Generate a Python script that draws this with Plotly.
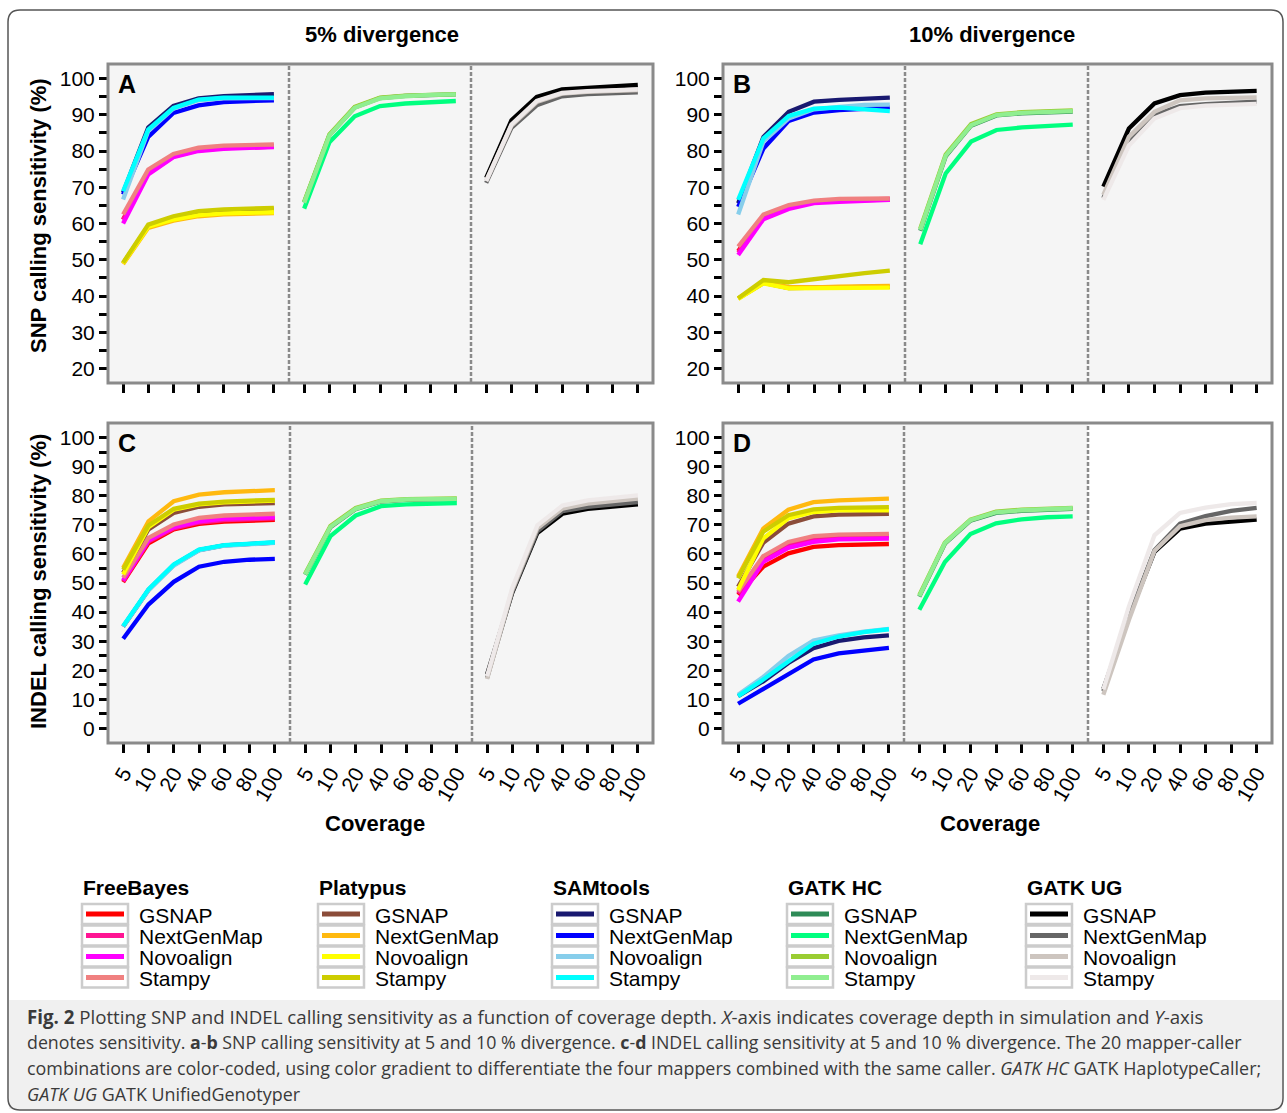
import plotly.graph_objects as go

# ---------------- data ----------------
coverage = ["5", "10", "20", "40", "60", "80", "100"]
mappers = ["GSNAP", "NextGenMap", "Novoalign", "Stampy"]
callers = ["FreeBayes", "Platypus", "SAMtools", "GATK HC", "GATK UG"]

freebayes_colors = ["#FF0000", "#FF1493", "#FF00FF", "#F08080"]
platypus_colors = ["#8B4C39", "#FFB90F", "#FFFF00", "#CDCD00"]
samtools_colors = ["#191970", "#0000FF", "#87CEEB", "#00FFFF"]
gatkhc_colors = ["#2E8B57", "#00FF7F", "#9ACD32", "#90EE90"]
gatkug_colors = ["#000000", "#666666", "#CDC5BF", "#EEE9E9"]

# Panel A: SNP sensitivity, 5% divergence (rows: GSNAP, NextGenMap, Novoalign, Stampy)
snp5_freebayes = [[61.1, 73.8, 78.5, 80.2, 80.8, 81.0, 81.2],
                  [61.0, 74.0, 78.7, 80.4, 81.0, 81.2, 81.4],
                  [60.0, 73.5, 78.3, 80.0, 80.6, 80.9, 81.1],
                  [62.5, 74.9, 79.2, 80.9, 81.5, 81.7, 81.8]]
snp5_platypus = [[49.0, 59.3, 61.5, 62.8, 63.3, 63.6, 63.8],
                 [48.8, 58.8, 60.8, 62.0, 62.5, 62.7, 62.9],
                 [49.0, 59.1, 61.1, 62.3, 62.8, 62.9, 63.1],
                 [49.2, 59.7, 62.0, 63.4, 63.9, 64.1, 64.3]]
snp5_samtools = [[68.5, 86.5, 92.4, 94.5, 95.1, 95.4, 95.7],
                 [68.0, 83.9, 90.5, 92.6, 93.5, 93.7, 94.0],
                 [66.6, 85.5, 91.7, 94.0, 94.5, 94.6, 94.6],
                 [68.9, 85.9, 91.9, 94.2, 94.7, 94.8, 94.7]]
snp5_gatkhc = [[65.8, 84.4, 92.0, 94.6, 95.2, 95.5, 95.6],
               [64.1, 82.4, 89.6, 92.4, 93.1, 93.5, 93.8],
               [66.0, 84.6, 92.2, 94.7, 95.3, 95.6, 95.7],
               [65.7, 84.3, 91.9, 94.5, 95.1, 95.5, 95.6]]
snp5_gatkug = [[72.6, 88.5, 94.9, 97.0, 97.4, 97.9, 98.2],
               [71.2, 86.4, 92.6, 95.1, 95.7, 96.0, 96.2],
               [71.8, 87.0, 93.5, 95.8, 96.3, 96.6, 96.8],
               [71.7, 87.3, 93.8, 96.0, 96.5, 96.8, 97.0]]

# Panel B: SNP sensitivity, 10% divergence
snp10_freebayes = [[52.4, 61.6, 64.4, 65.9, 66.3, 66.5, 66.6],
                   [52.0, 61.8, 64.6, 66.0, 66.5, 66.7, 66.8],
                   [51.3, 61.2, 64.0, 65.6, 66.0, 66.3, 66.5],
                   [53.6, 62.5, 65.1, 66.3, 66.8, 66.9, 66.9]]
snp10_platypus = [[39.3, 43.6, 42.2, 42.2, 42.4, 42.5, 42.5],
                  [39.3, 43.7, 42.5, 42.4, 42.6, 42.7, 42.8],
                  [39.2, 43.5, 42.1, 42.1, 42.3, 42.3, 42.3],
                  [39.4, 44.4, 43.8, 44.7, 45.6, 46.3, 47.0]]
snp10_samtools = [[65.6, 83.9, 90.8, 93.6, 94.1, 94.5, 94.7],
                  [64.6, 80.7, 88.3, 90.6, 91.3, 91.7, 92.0],
                  [62.5, 82.6, 89.0, 91.5, 92.2, 92.7, 92.8],
                  [66.5, 83.5, 89.7, 91.7, 92.0, 91.5, 91.0]]
snp10_gatkhc = [[58.0, 78.5, 87.0, 89.8, 90.4, 90.7, 90.9],
                [54.3, 73.8, 82.6, 85.8, 86.5, 87.0, 87.3],
                [58.6, 79.0, 87.4, 90.1, 90.7, 91.0, 91.2],
                [58.2, 78.7, 87.1, 89.9, 90.5, 90.8, 91.0]]
snp10_gatkug = [[70.2, 86.2, 93.1, 95.4, 96.1, 96.3, 96.6],
                [67.0, 82.6, 89.9, 92.4, 92.9, 93.3, 93.6],
                [67.9, 83.9, 90.8, 94.0, 94.5, 94.7, 94.8],
                [66.5, 81.5, 89.0, 91.8, 92.5, 92.8, 93.0]]

# Panel C: INDEL sensitivity, 5% divergence
indel5_freebayes = [[50.3, 63.6, 68.4, 70.3, 71.1, 71.5, 71.7],
                    [50.6, 64.2, 68.8, 70.8, 71.6, 72.0, 72.2],
                    [50.9, 64.7, 69.2, 71.2, 72.1, 72.4, 72.6],
                    [51.8, 65.5, 70.1, 72.4, 73.2, 73.5, 73.8]]
indel5_platypus = [[53.5, 68.4, 74.1, 76.2, 77.0, 77.3, 77.5],
                   [55.2, 71.2, 78.1, 80.4, 81.2, 81.6, 81.9],
                   [52.9, 69.2, 75.2, 77.0, 77.7, 78.1, 78.3],
                   [54.6, 69.8, 75.5, 77.3, 78.0, 78.4, 78.6]]
indel5_samtools = [[35.0, 47.6, 56.2, 61.3, 62.9, 63.5, 63.9],
                   [30.8, 42.6, 50.4, 55.6, 57.3, 58.0, 58.3],
                   [35.0, 47.5, 56.0, 61.2, 62.8, 63.4, 63.8],
                   [35.2, 47.8, 56.4, 61.5, 63.0, 63.6, 64.0]]
indel5_gatkhc = [[52.8, 69.2, 75.4, 78.0, 78.6, 78.8, 78.8],
                 [49.5, 66.1, 73.2, 76.4, 77.0, 77.3, 77.5],
                 [53.2, 69.6, 75.8, 78.3, 78.8, 79.0, 79.1],
                 [52.9, 69.3, 75.5, 78.1, 78.7, 78.9, 78.9]]
indel5_gatkug = [[18.6, 46.6, 67.2, 73.8, 75.5, 76.4, 77.0],
                 [17.4, 46.9, 67.8, 74.7, 76.2, 77.0, 77.8],
                 [17.0, 47.5, 68.8, 75.6, 77.3, 78.3, 79.0],
                 [18.0, 48.3, 69.8, 76.6, 78.4, 79.3, 80.1]]

# Panel D: INDEL sensitivity, 10% divergence
indel10_freebayes = [[45.9, 55.6, 60.2, 62.4, 63.0, 63.3, 63.4],
                     [46.4, 58.3, 63.0, 65.0, 65.7, 66.0, 66.1],
                     [43.6, 57.3, 62.1, 64.1, 65.0, 65.3, 65.3],
                     [47.0, 59.2, 64.1, 66.1, 66.6, 66.8, 66.9]]
indel10_platypus = [[48.7, 63.8, 70.4, 72.9, 73.5, 73.7, 73.8],
                    [52.2, 68.7, 75.2, 77.8, 78.4, 78.8, 79.0],
                    [47.6, 65.3, 72.2, 74.4, 75.0, 75.0, 75.0],
                    [51.6, 67.6, 73.3, 75.3, 75.8, 75.9, 76.1]]
indel10_samtools = [[11.1, 16.2, 22.5, 27.6, 30.1, 31.3, 32.0],
                    [8.5, 13.6, 18.7, 23.7, 25.8, 26.9, 27.7],
                    [11.6, 17.7, 24.9, 30.2, 32.0, 33.3, 34.2],
                    [11.1, 16.8, 23.0, 29.1, 31.6, 33.1, 34.1]]
indel10_gatkhc = [[45.3, 63.5, 71.4, 74.1, 74.8, 75.1, 75.5],
                  [40.8, 57.2, 66.8, 70.5, 71.9, 72.6, 72.9],
                  [45.8, 63.9, 71.8, 74.5, 75.2, 75.5, 75.8],
                  [45.5, 63.7, 71.6, 74.3, 75.0, 75.3, 75.7]]
indel10_gatkug = [[13.6, 38.5, 60.7, 68.7, 70.4, 71.2, 71.8],
                  [12.8, 38.5, 61.3, 70.4, 73.0, 74.8, 75.8],
                  [11.6, 37.3, 61.0, 69.5, 71.6, 72.5, 72.9],
                  [13.4, 41.9, 66.4, 74.1, 75.9, 77.1, 77.5]]

snp_ticks = list(range(20, 101, 5))
indel_ticks = list(range(0, 101, 5))

# ---------------- layout helpers ----------------
W, H = 1287, 1113
FONT = "Liberation Sans, Arial, sans-serif"


def PX(x):
    return x / W


def PY(y):
    return 1 - y / H


caller_colors = [freebayes_colors, platypus_colors, samtools_colors,
                 gatkhc_colors, gatkug_colors]
caller_sub = [0, 0, 0, 1, 2]

panels = [
    dict(letter="A", data=[snp5_freebayes, snp5_platypus, snp5_samtools, snp5_gatkhc, snp5_gatkug],
         top=64, bottom=383, xs=[108, 289, 471, 653], yr=[16, 104], ticks=snp_ticks, xlabels=False),
    dict(letter="B", data=[snp10_freebayes, snp10_platypus, snp10_samtools, snp10_gatkhc, snp10_gatkug],
         top=64, bottom=383, xs=[723, 905, 1088, 1272], yr=[16, 104], ticks=snp_ticks, xlabels=False),
    dict(letter="C", data=[indel5_freebayes, indel5_platypus, indel5_samtools, indel5_gatkhc, indel5_gatkug],
         top=423, bottom=743, xs=[108, 290, 472, 653], yr=[-5, 105], ticks=indel_ticks, xlabels=True),
    dict(letter="D", data=[indel10_freebayes, indel10_platypus, indel10_samtools, indel10_gatkhc, indel10_gatkug],
         top=423, bottom=743, xs=[723, 904, 1088, 1272], yr=[-5, 105], ticks=indel_ticks, xlabels=True),
]

fig = go.Figure()
layout = {}
shapes = []
annotations = []

xpos = list(range(len(coverage)))

for pi, p in enumerate(panels):
    yname = "y" if pi == 0 else f"y{pi + 1}"
    ykey = "yaxis" if pi == 0 else f"yaxis{pi + 1}"
    first_x = "x" if pi == 0 else f"x{pi * 3 + 1}"
    layout[ykey] = dict(
        domain=[PY(p["bottom"]), PY(p["top"])], range=p["yr"], anchor=first_x,
        tickmode="array", tickvals=p["ticks"],
        ticktext=[str(t) if t % 10 == 0 else "" for t in p["ticks"]],
        ticks="outside", ticklen=8, tickwidth=3, tickcolor="black",
        showgrid=False, zeroline=False, showline=False,
        tickfont=dict(family=FONT, size=21, color="black"),
    )
    for s in range(3):
        k = pi * 3 + s + 1
        xkey = "xaxis" if k == 1 else f"xaxis{k}"
        layout[xkey] = dict(
            domain=[PX(p["xs"][s]), PX(p["xs"][s + 1])], range=[-0.6, 6.6], anchor=yname,
            tickmode="array", tickvals=xpos, ticktext=coverage, tickangle=-60,
            showticklabels=p["xlabels"],
            ticks="outside", ticklen=9, tickwidth=3, tickcolor="black",
            showgrid=False, zeroline=False, showline=False,
            tickfont=dict(family=FONT, size=21, color="black"),
        )
        # backgrounds
        bg = "#FFFFFF" if (p["letter"] == "D" and s == 2) else "#F5F5F5"
        shapes.append(dict(type="rect", xref="paper", yref="paper", layer="below",
                           x0=PX(p["xs"][s]), x1=PX(p["xs"][s + 1]),
                           y0=PY(p["bottom"]), y1=PY(p["top"]),
                           fillcolor=bg, line=dict(width=0)))
    # dotted separators
    for s in (1, 2):
        shapes.append(dict(type="line", xref="paper", yref="paper", layer="above",
                           x0=PX(p["xs"][s]), x1=PX(p["xs"][s]),
                           y0=PY(p["bottom"] - 1), y1=PY(p["top"] + 1),
                           line=dict(color="#8A8A8A", width=2.5, dash="4px,2px")))
    # panel border
    shapes.append(dict(type="rect", xref="paper", yref="paper", layer="above",
                       x0=PX(p["xs"][0]), x1=PX(p["xs"][3]),
                       y0=PY(p["bottom"]), y1=PY(p["top"]),
                       line=dict(color="#8A8A8A", width=3)))
    # panel letter
    annotations.append(dict(text=f"<b>{p['letter']}</b>", xref="paper", yref="paper",
                            x=PX(p["xs"][0] + 8), y=PY(p["top"] + 20), xanchor="left",
                            yanchor="middle", showarrow=False,
                            font=dict(family=FONT, size=25, color="black")))
    # traces
    for ci, cdata in enumerate(p["data"]):
        s = caller_sub[ci]
        k = pi * 3 + s + 1
        xname = "x" if k == 1 else f"x{k}"
        for mi, vals in enumerate(cdata):
            fig.add_trace(go.Scatter(
                x=xpos, y=vals, xaxis=xname, yaxis=yname, mode="lines",
                line=dict(color=caller_colors[ci][mi], width=4.3),
                name=f"{callers[ci]} / {mappers[mi]}", showlegend=False,
                hovertemplate=f"{callers[ci]} {mappers[mi]}<br>Coverage %{{text}}: %{{y}}%<extra></extra>",
                text=coverage,
            ))

# titles
title_font = dict(family=FONT, size=22, color="black")
for txt, x, y in [("<b>5% divergence</b>", 382, 35), ("<b>10% divergence</b>", 992, 35),
                  ("<b>Coverage</b>", 375, 823), ("<b>Coverage</b>", 990, 823)]:
    annotations.append(dict(text=txt, xref="paper", yref="paper", x=PX(x), y=PY(y),
                            xanchor="center", yanchor="middle", showarrow=False, font=title_font))
for txt, y in [("<b>SNP calling sensitivity (%)</b>", 216), ("<b>INDEL calling sensitivity (%)</b>", 582)]:
    annotations.append(dict(text=txt, xref="paper", yref="paper", x=PX(38), y=PY(y),
                            xanchor="center", yanchor="middle", textangle=-90, showarrow=False,
                            font=title_font))

# legend (manual, five caller groups)
group_x = [82, 318, 552, 787, 1026]
row_y = [914, 935.5, 956.5, 977.5]
for gi, gx in enumerate(group_x):
    annotations.append(dict(text=f"<b>{callers[gi]}</b>", xref="paper", yref="paper",
                            x=PX(gx - 1), y=PY(887), xanchor="left", yanchor="middle",
                            showarrow=False, font=dict(family=FONT, size=21, color="black")))
    for mi, ry in enumerate(row_y):
        shapes.append(dict(type="rect", xref="paper", yref="paper",
                           x0=PX(gx), x1=PX(gx + 46), y0=PY(ry + 10), y1=PY(ry - 10),
                           fillcolor="white", line=dict(color="#CCCCCC", width=2.5)))
        shapes.append(dict(type="rect", xref="paper", yref="paper",
                           x0=PX(gx + 4), x1=PX(gx + 42), y0=PY(ry + 2.5), y1=PY(ry - 2.5),
                           fillcolor=caller_colors[gi][mi], line=dict(width=0)))
        annotations.append(dict(text=mappers[mi], xref="paper", yref="paper",
                                x=PX(gx + 55), y=PY(ry + 1), xanchor="left", yanchor="middle",
                                showarrow=False, font=dict(family=FONT, size=21, color="black")))

# caption
shapes.append(dict(type="rect", xref="paper", yref="paper", layer="below",
                   x0=PX(9), x1=PX(1282), y0=PY(1109), y1=PY(1000),
                   fillcolor="#F0F0F0", line=dict(width=0)))
caption_lines = [
    "<b>Fig. 2</b> Plotting SNP and INDEL calling sensitivity as a function of coverage depth. "
    "<i>X</i>-axis indicates coverage depth in simulation and <i>Y</i>-axis",
    "denotes sensitivity. <b>a</b>-<b>b</b> SNP calling sensitivity at 5 and 10 % divergence. "
    "<b>c</b>-<b>d</b> INDEL calling sensitivity at 5 and 10 % divergence. The 20 mapper-caller",
    "combinations are color-coded, using color gradient to differentiate the four mappers combined "
    "with the same caller. <i>GATK HC</i> GATK HaplotypeCaller;",
    "<i>GATK UG</i> GATK UnifiedGenotyper",
]
caption_sizes = [18.7, 17.8, 17.9, 17.9]
for li, line in enumerate(caption_lines):
    annotations.append(dict(text=line, xref="paper", yref="paper", x=PX(25), y=PY(1016 + 26 * li),
                            xanchor="left", yanchor="middle", showarrow=False,
                            font=dict(family="Open Sans, sans-serif", size=caption_sizes[li],
                                      color="#3A3A3A")))

# outer rounded frame
x0, x1, y0, y1, r = 8, 1283, 10, 1110, 12
path = (f"M {PX(x0 + r)},{PY(y0)} L {PX(x1 - r)},{PY(y0)} Q {PX(x1)},{PY(y0)} {PX(x1)},{PY(y0 + r)} "
        f"L {PX(x1)},{PY(y1 - r)} Q {PX(x1)},{PY(y1)} {PX(x1 - r)},{PY(y1)} "
        f"L {PX(x0 + r)},{PY(y1)} Q {PX(x0)},{PY(y1)} {PX(x0)},{PY(y1 - r)} "
        f"L {PX(x0)},{PY(y0 + r)} Q {PX(x0)},{PY(y0)} {PX(x0 + r)},{PY(y0)} Z")
shapes.append(dict(type="path", xref="paper", yref="paper", path=path,
                   line=dict(color="#555555", width=1.5)))

fig.update_layout(
    width=W, height=H, margin=dict(l=0, r=0, t=0, b=0),
    paper_bgcolor="white", plot_bgcolor="rgba(0,0,0,0)",
    shapes=shapes, annotations=annotations, showlegend=False,
    **layout,
)

fig.write_html("out.html", config={"displayModeBar": False},
               post_script="document.body.style.margin='0';document.body.style.overflow='hidden';")
